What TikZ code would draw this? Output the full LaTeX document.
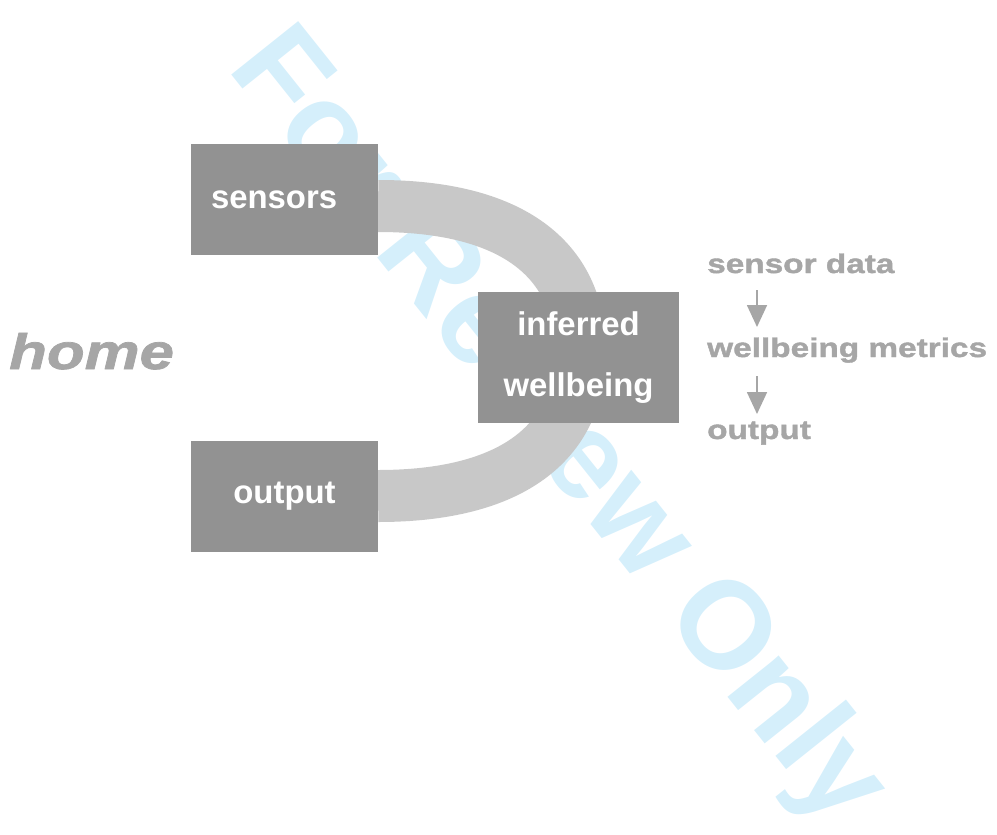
\documentclass[tikz,border=0pt]{standalone}
\usepackage{fontspec}
\setmainfont{Liberation Sans}
\newfontfamily\widesans[FakeStretch=1.24,FakeBold=1.5]{Liberation Sans}
\usetikzlibrary{positioning,arrows.meta,backgrounds}
\definecolor{boxgray}{HTML}{929292}
\definecolor{bandgray}{HTML}{C8C8C8}
\definecolor{notegray}{HTML}{A6A6A6}
\definecolor{markblue}{HTML}{D5EFFB}
\tikzset{
  box/.style={fill=boxgray, text=white, inner sep=0pt,
    font=\bfseries\fontsize{33}{62}\selectfont,
    minimum width=187bp, minimum height=111bp},
  note/.style={text=notegray, inner sep=0pt, anchor=base west,
    font=\widesans\bfseries\fontsize{27}{32}\selectfont},
  flow/.style={-{Triangle[length=22bp,width=20bp]}, draw=notegray, line width=1.8bp},
  band/.style={draw=bandgray, line width=52bp},
}

\begin{document}
\begin{tikzpicture}[x=1bp,y=-1bp]

\useasboundingbox (0,0) rectangle (997,835);

% the three boxes
\node[box, text width=147bp, inner xsep=20bp, align=left] (sensors) at (284.5,199.5) {sensors};
\node[box] (output) at (284.5,496) {output};
\node[box, minimum width=201bp, minimum height=131bp, align=center] (wellbeing) at (578.5,357.5) {inferred\\wellbeing};

\node[anchor=base west, inner sep=0pt, text=notegray,
  font=\widesans\bfseries\itshape\fontsize{50}{60}\selectfont] (home) at (9,369) {home};

% legend on the right
\node[note] (sdata) at (707,273) {sensor data};
\node[note] (metrics) at (707,357) {wellbeing metrics};
\node[note] (result) at (707,439) {output};

\draw[flow] ([xshift=50bp,yshift=-17bp]sdata.base west) -- ([xshift=50bp,yshift=30bp]metrics.base west);
\draw[flow] ([xshift=50bp,yshift=-19bp]metrics.base west) -- ([xshift=50bp,yshift=25bp]result.base west);

\begin{scope}[on background layer]
\node[rotate=-51.4, anchor=base west, inner sep=0pt, text=markblue,
  font=\bfseries\fontsize{125}{125}\selectfont] (stamp) at (226,68) {For Review Only};
\draw[band] ([yshift=-6.5bp]sensors.east) .. controls +(132,0) and +(0,-93) .. (580,351)
  .. controls +(0,93) and +(132,0) .. (output.east);
\end{scope}

\end{tikzpicture}
\end{document}
